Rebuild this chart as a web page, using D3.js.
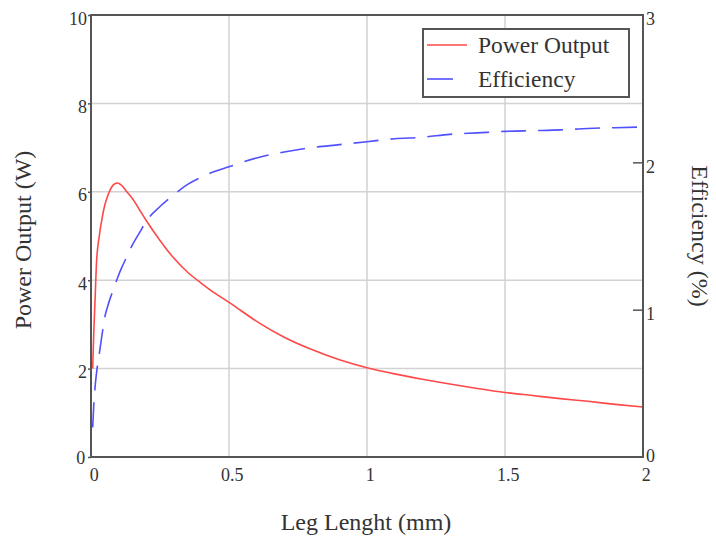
<!DOCTYPE html>
<html lang="en">
<head>
  <meta charset="UTF-8">
  <title>Power Output and Efficiency vs Leg Length</title>
  <script src="https://d3js.org/d3.v7.min.js"></script>
  <style>
    body { margin: 0; padding: 0; background: #fff; }
    svg { display: block; font-family: "Liberation Serif", "Times New Roman", serif; }
    .tick text { fill: #333; font-size: 18px; }
    .grid line { stroke: #d2d2d2; stroke-width: 1.5; }
    .axis-title { fill: #333; font-size: 24px; }
    .legend-text { fill: #333; font-size: 23.5px; }
  </style>
</head>
<body>
  <div id="chart"></div>
  <script>
    // leg length (mm) shared by both series
    const legLength = [0.006, 0.01, 0.015, 0.02, 0.03, 0.04, 0.05, 0.06, 0.07, 0.08, 0.095,
      0.11, 0.13, 0.15, 0.175, 0.2, 0.25, 0.3, 0.35, 0.4, 0.45, 0.5, 0.6, 0.7, 0.8, 0.9,
      1.0, 1.1, 1.2, 1.3, 1.4, 1.5, 1.6, 1.7, 1.8, 1.9, 2.0];
    // power output (W), left axis
    const powerOutput = [2.0, 2.8, 3.6, 4.4, 5.0, 5.4, 5.7, 5.9, 6.05, 6.15, 6.2,
      6.15, 6.0, 5.85, 5.6, 5.35, 4.9, 4.5, 4.18, 3.93, 3.7, 3.5, 3.07, 2.71, 2.43, 2.2,
      2.02, 1.88, 1.76, 1.65, 1.55, 1.46, 1.39, 1.32, 1.26, 1.19, 1.13];
    // efficiency (%), right axis
    const efficiency = [0.2, 0.35, 0.48, 0.57, 0.7, 0.83, 0.95, 1.02, 1.08, 1.13, 1.21,
      1.28, 1.36, 1.44, 1.52, 1.6, 1.7, 1.78, 1.85, 1.9, 1.94, 1.97, 2.03, 2.07, 2.1, 2.12,
      2.14, 2.16, 2.17, 2.19, 2.2, 2.21, 2.215, 2.22, 2.23, 2.235, 2.24];

    const xTicks = [0, 0.5, 1, 1.5, 2];
    const yLeftTicks = [0, 2, 4, 6, 8, 10];
    const yRightTicks = [0, 1, 2, 3];

    const width = 716, height = 542;
    const plot = { left: 91, right: 643, top: 15, bottom: 457 };
    const fmt = d3.format("~g");

    const svg = d3.select("#chart")
      .append("svg")
      .attr("width", width)
      .attr("height", height);

    svg.append("rect").attr("width", width).attr("height", height).attr("fill", "#fff");

    const x = d3.scaleLinear().domain([0, 2]).range([plot.left, plot.right]);
    const yL = d3.scaleLinear().domain([0, 10]).range([plot.bottom, plot.top]);
    const yR = d3.scaleLinear().domain([0, 3]).range([plot.bottom, plot.top]);

    // grid lines
    svg.append("g").attr("class", "grid")
      .selectAll("line")
      .data(xTicks.slice(1, -1))
      .join("line")
      .attr("x1", d => x(d)).attr("x2", d => x(d))
      .attr("y1", plot.top).attr("y2", plot.bottom);

    svg.append("g").attr("class", "grid")
      .selectAll("line")
      .data(yLeftTicks.slice(1, -1))
      .join("line")
      .attr("x1", plot.left).attr("x2", plot.right)
      .attr("y1", d => yL(d)).attr("y2", d => yL(d));

    // curves
    const data = legLength.map((l, i) => ({ l, p: powerOutput[i], e: efficiency[i] }));

    svg.append("path")
      .datum(data)
      .attr("fill", "none")
      .attr("stroke", "#ff4848")
      .attr("stroke-width", 1.6)
      .attr("d", d3.line().x(d => x(d.l)).y(d => yL(d.p)).curve(d3.curveMonotoneX));

    svg.append("path")
      .datum(data)
      .attr("fill", "none")
      .attr("stroke", "#5050ff")
      .attr("stroke-width", 1.6)
      .attr("stroke-dasharray", "25,12")
      .attr("d", d3.line().x(d => x(d.l)).y(d => yR(d.e)).curve(d3.curveMonotoneX));

    // axes
    const leftAxis = svg.append("g")
      .attr("transform", `translate(${plot.left},0)`)
      .call(d3.axisLeft(yL).tickValues(yLeftTicks).tickFormat(fmt).tickSize(3).tickPadding(1));

    const rightAxis = svg.append("g")
      .attr("transform", `translate(${plot.right},0)`)
      .call(d3.axisRight(yR).tickValues(yRightTicks).tickFormat(fmt)
        .tickSizeInner(-10).tickSizeOuter(0).tickPadding(3));

    const bottomAxis = svg.append("g")
      .attr("transform", `translate(0,${plot.bottom})`)
      .call(d3.axisBottom(x).tickValues(xTicks).tickFormat(fmt).tickSize(0).tickPadding(11));

    [leftAxis, rightAxis, bottomAxis].forEach(g => {
      g.select(".domain").remove();
      g.attr("font-family", null).attr("font-size", null);
      g.selectAll(".tick line").attr("stroke", "#555").attr("stroke-width", 1.5);
    });
    leftAxis.selectAll(".tick text").attr("dy", "0.5em");
    leftAxis.selectAll(".tick").filter(d => d === 0).select("text").attr("dx", "-0.1em").attr("dy", "0.35em");
    rightAxis.selectAll(".tick text").attr("dy", "0.55em");
    rightAxis.selectAll(".tick").filter(d => d === 0).select("text").attr("dy", "0.25em");
    rightAxis.selectAll(".tick").filter(d => d === 0 || d === 3).select("line").remove();
    bottomAxis.selectAll(".tick text").attr("dx", "0.15em");

    // frame
    svg.append("rect")
      .attr("x", plot.left).attr("y", plot.top)
      .attr("width", plot.right - plot.left)
      .attr("height", plot.bottom - plot.top)
      .attr("fill", "none")
      .attr("stroke", "#555")
      .attr("stroke-width", 2);

    // axis titles
    svg.append("text")
      .attr("class", "axis-title")
      .attr("x", (plot.left + plot.right) / 2 - 1)
      .attr("y", 530)
      .attr("text-anchor", "middle")
      .text("Leg Lenght (mm)");

    svg.append("text")
      .attr("class", "axis-title")
      .attr("transform", `translate(31,${(plot.top + plot.bottom) / 2 + 4}) rotate(-90)`)
      .attr("text-anchor", "middle")
      .text("Power Output (W)");

    svg.append("text")
      .attr("class", "axis-title")
      .attr("transform", `translate(692,${(plot.top + plot.bottom) / 2}) rotate(90)`)
      .attr("text-anchor", "middle")
      .text("Efficiency (%)");

    // legend
    const legend = svg.append("g");
    legend.append("rect")
      .attr("x", 423).attr("y", 29)
      .attr("width", 206).attr("height", 68)
      .attr("fill", "#fff")
      .attr("stroke", "#555")
      .attr("stroke-width", 2);

    const legendItems = [
      { name: "Power Output", color: "#ff4848", len: 40, y: 45 },
      { name: "Efficiency", color: "#5050ff", len: 26, y: 79 }
    ];
    legendItems.forEach(item => {
      legend.append("line")
        .attr("x1", 427).attr("x2", 427 + item.len)
        .attr("y1", item.y).attr("y2", item.y)
        .attr("stroke", item.color)
        .attr("stroke-width", 1.6);
      legend.append("text")
        .attr("class", "legend-text")
        .attr("x", 478).attr("y", item.y + 8)
        .text(item.name);
    });
  </script>
</body>
</html>
